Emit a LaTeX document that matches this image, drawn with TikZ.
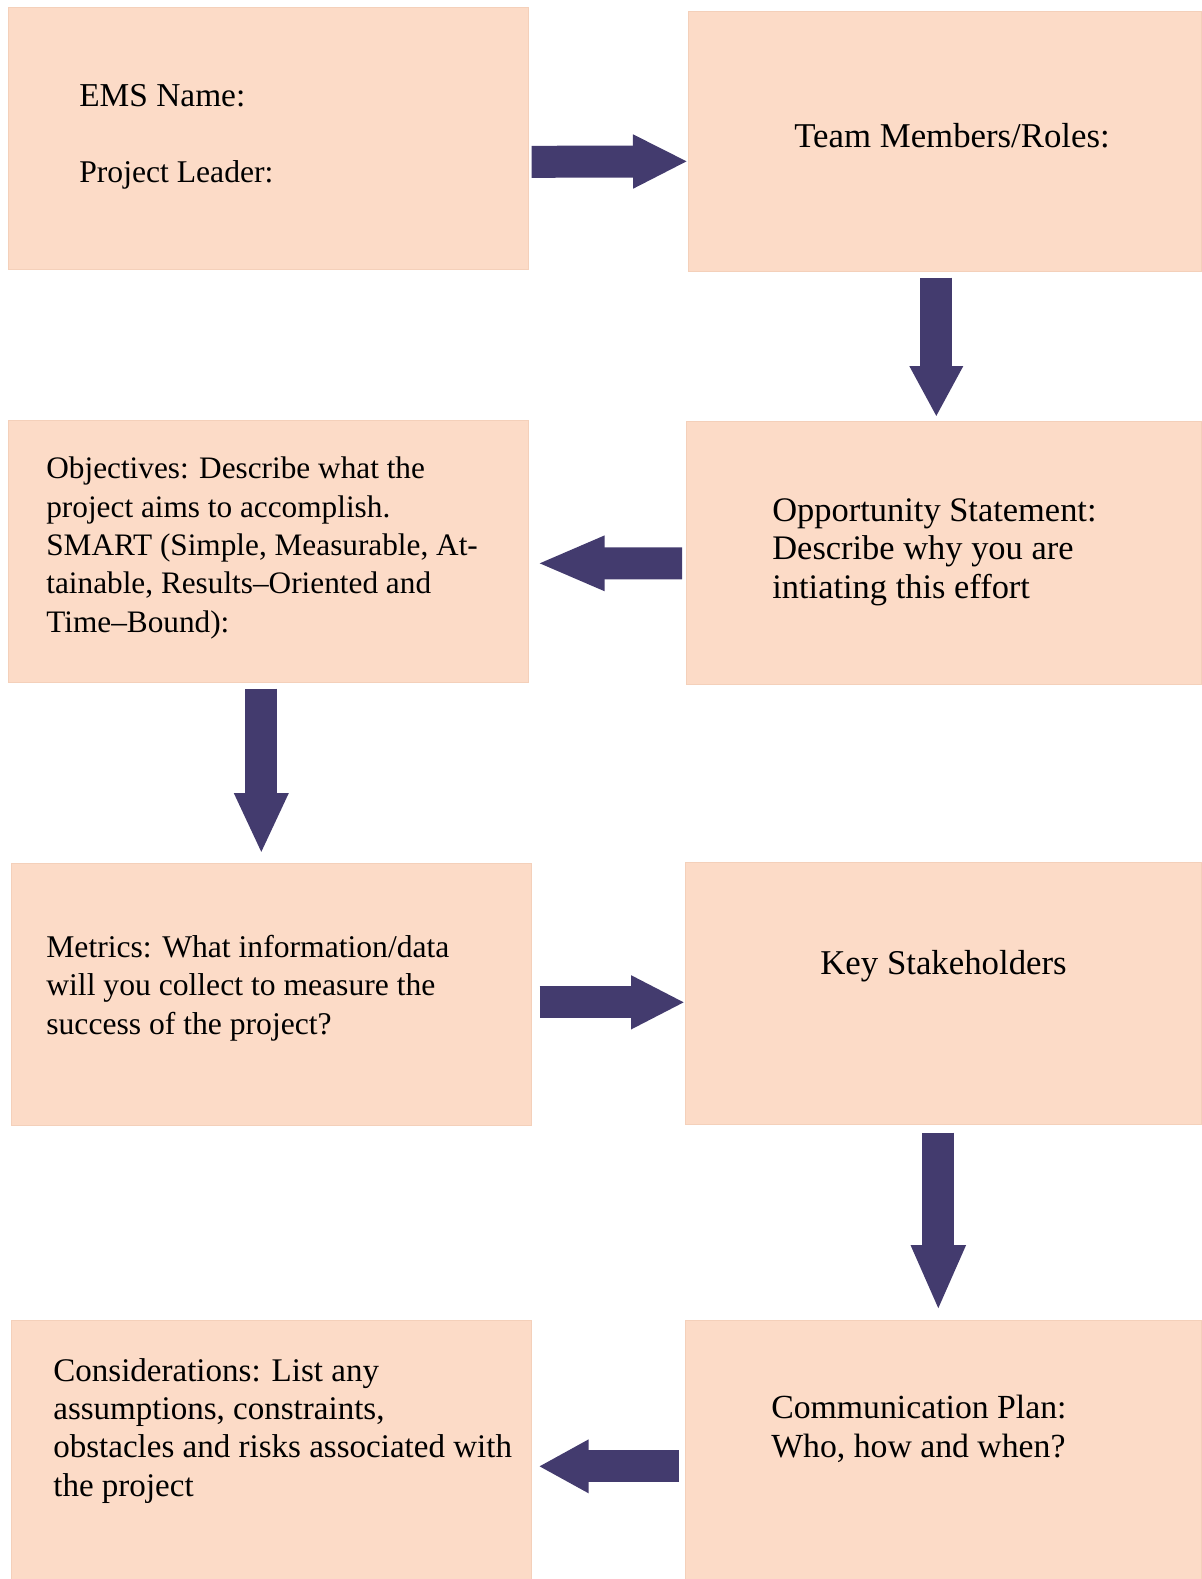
\documentclass[tikz,border=0pt]{standalone}
\usepackage{fontspec}
\setmainfont{Liberation Serif}
\usepackage{xcolor}
\usetikzlibrary{arrows.meta}
\definecolor{peach}{RGB}{252,219,199}
\definecolor{peachline}{RGB}{244,208,186}
\definecolor{flowblue}{RGB}{67,59,110}

\begin{document}
\begin{tikzpicture}[x=0.02cm,y=-0.02cm,
  stage/.style={fill=peach,draw=peachline,line width=0.4pt,anchor=north west,inner sep=0pt,minimum width=10.4cm,minimum height=5.24cm},
  txt/.style={anchor=base west,align=left,inner sep=0pt,font=\fontsize{#1}{21.8}\selectfont},
  txt/.default=18.5,
  flow/.style={draw=flowblue,line width=0.64cm,-{Triangle[width=1cm,length=#1]}},
  flow/.default=1.1cm]
 \useasboundingbox (0,0) rectangle (1201,1579);

 \node[stage] (ems) at (8,7) {};
 \node[stage,minimum width=10.26cm,minimum height=5.2cm] (team) at (688,11) {};
 \node[stage] (obj) at (8,420) {};
 \node[stage,minimum width=10.3cm,minimum height=5.26cm] (opp) at (686,421) {};
 \node[stage] (met) at (11,863) {};
 \node[stage,minimum width=10.32cm] (key) at (685,862) {};
 \node[stage,minimum height=5.18cm] (cons) at (11,1320) {};
 \node[stage,minimum width=10.32cm,minimum height=5.18cm] (comm) at (685,1320) {};

 % texts (base = last line)
 \node[txt=19] (emsname) at (79,106) {EMS Name:};
 \node[txt=18] (leader) at (79,182) {Project Leader:};
 \node[txt=19.8] (teamtxt) at (794,147) {Team Members/Roles:};
 \node[txt=17.8] (objtxt) at (46,632) {Objectives: Describe what the\\project aims to accomplish.\\SMART (Simple, Measurable, At-\\tainable, Results--Oriented and\\Time--Bound):};
 \node[txt=19.6] (opptxt) at (772,598) {Opportunity Statement:\\Describe why you are\\intiating this effort};
 \node[txt=18] (mettxt) at (46,1034) {Metrics: What information/data\\will you collect to measure the\\success of the project?};
 \node[txt=19.8] (keytxt) at (820,974) {Key Stakeholders};
 \node[txt=18.8] (constxt) at (53,1496) {Considerations: List any\\assumptions, constraints,\\obstacles and risks associated with\\the project};
 \node[txt=19.2] (commtxt) at (771,1457) {Communication Plan:\\Who, how and when?};

 % block arrows
 \draw[flow] ([shift={(3,23.5)}]ems.east) -- ([shift={(0,20)}]team.west);
 \draw[flow=1.02cm] ([shift={(-8.5,6)}]team.south) -- ([shift={(-7.5,-4)}]opp.north);
 \draw[flow=1.36cm] ([shift={(-4,10.5)}]opp.west) -- ([shift={(8,12)}]obj.east);
 \draw[flow=1.22cm] ([shift={(-7,6)}]obj.south) -- ([shift={(-10,-9)}]met.north);
 \draw[flow=1.08cm] ([shift={(8,8)}]met.east) -- ([shift={(0,9)}]key.west);
 \draw[flow=1.32cm] ([shift={(-5,8)}]key.south) -- ([shift={(-5,-9)}]comm.north);
 \draw[flow=1cm] ([shift={(-6,16.5)}]comm.west) -- ([shift={(7,16.5)}]cons.east);
\end{tikzpicture}
\end{document}
